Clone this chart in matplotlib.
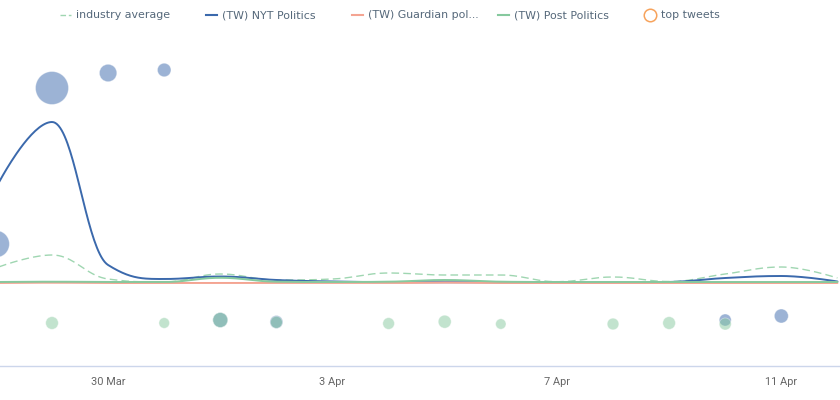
import numpy as np
import pandas as pd
import matplotlib
matplotlib.use("Agg")
import matplotlib.pyplot as plt
import matplotlib.dates as mdates
from matplotlib.lines import Line2D

# ---------------- data ----------------
dates = pd.date_range("2020-03-28", "2020-04-12", freq="D")
industry_avg = [15, 28, 4, 1, 9, 3, 4, 10, 8, 8, 1.3, 6, 1.5, 9, 16, 5]
nyt_politics = [95, 161, 18, 4, 6.5, 3, 1.5, 0.8, 0.8, 0.8, 0.5, 0.5, 1, 5, 7, 1.5]
guardian_politics = [0, 0.3, 0, 0, 0, 0, 0, 0, 0.4, 0, 0, 0, 0, 0, 0, 0]
post_politics = [1, 1.3, 1, 1, 5.2, 1.3, 1, 1.3, 3, 1.3, 1, 1, 1, 1, 1, 1]

nyt_tweet_dates = ["2020-03-28", "2020-03-29", "2020-03-30", "2020-03-31",
                   "2020-04-01", "2020-04-02", "2020-04-10", "2020-04-11"]
nyt_tweet_values = [39, 195, 210, 213, -37, -39, -37, -33]
nyt_tweet_size = [182, 272, 76, 46, 56, 42, 36, 49]

post_tweet_dates = ["2020-03-29", "2020-03-31", "2020-04-01", "2020-04-02", "2020-04-04",
                    "2020-04-05", "2020-04-06", "2020-04-08", "2020-04-09", "2020-04-10"]
post_tweet_values = [-40, -40, -37, -39.3, -40.5, -38.7, -41, -41, -40, -41]
post_tweet_size = [40, 28, 56, 36, 34, 42, 27, 34, 40, 36]

tick_dates = ["2020-03-30", "2020-04-03", "2020-04-07", "2020-04-11"]
tick_labels = ["30 Mar", "3 Apr", "7 Apr", "11 Apr"]

legend_labels = ["industry average", "(TW) NYT Politics", "(TW) Guardian pol...",
                 "(TW) Post Politics", "top tweets"]

# ---------------- styles ----------------
C_AVG = "#9fd6b1"
C_NYT = "#3b69ac"
C_GUA = "#f4a492"
C_POST = "#86c99e"
C_TOP = "#f7a35c"
C_TEXT = "#55687a"


def hc_spline(x, y, smoothing=1.5, n=40):
    """Highcharts-style spline through points (bezier with clamped controls)."""
    x = np.asarray(x, float)
    y = np.asarray(y, float)
    m = len(x)
    lcx, lcy = x.copy(), y.copy()
    rcx, rcy = x.copy(), y.copy()
    d = smoothing + 1
    for i in range(1, m - 1):
        lx, ly, px, py, nx, ny = x[i - 1], y[i - 1], x[i], y[i], x[i + 1], y[i + 1]
        lX = (smoothing * px + lx) / d
        lY = (smoothing * py + ly) / d
        rX = (smoothing * px + nx) / d
        rY = (smoothing * py + ny) / d
        corr = 0.0
        if rX != lX:
            corr = ((rY - lY) * (rX - px)) / (rX - lX) + py - rY
        lY += corr
        rY += corr
        if lY > ly and lY > py:
            lY = max(ly, py)
            rY = 2 * py - lY
        elif lY < ly and lY < py:
            lY = min(ly, py)
            rY = 2 * py - lY
        if rY > ny and rY > py:
            rY = max(ny, py)
            lY = 2 * py - rY
        elif rY < ny and rY < py:
            rY = min(ny, py)
            lY = 2 * py - rY
        lcx[i], lcy[i], rcx[i], rcy[i] = lX, lY, rX, rY
    xs, ys = [], []
    t = np.linspace(0, 1, n)
    for i in range(1, m):
        p0 = (x[i - 1], y[i - 1])
        p1 = (rcx[i - 1], rcy[i - 1])
        p2 = (lcx[i], lcy[i])
        p3 = (x[i], y[i])
        bx = (1 - t) ** 3 * p0[0] + 3 * (1 - t) ** 2 * t * p1[0] + 3 * (1 - t) * t ** 2 * p2[0] + t ** 3 * p3[0]
        by = (1 - t) ** 3 * p0[1] + 3 * (1 - t) ** 2 * t * p1[1] + 3 * (1 - t) * t ** 2 * p2[1] + t ** 3 * p3[1]
        xs.append(bx if i == 1 else bx[1:])
        ys.append(by if i == 1 else by[1:])
    return np.concatenate(xs), np.concatenate(ys)


fig = plt.figure(figsize=(8.4, 4.0), dpi=100)
ax = fig.add_axes([0, 34 / 400, 1, 326 / 400])

xn = mdates.date2num(dates)
for vals, col, ls, lw, z in [
    (industry_avg, C_AVG, (0, (5.5, 3)), 1.0, 2),
    (nyt_politics, C_NYT, "-", 1.4, 3),
    (guardian_politics, C_GUA, "-", 1.4, 4),
    (post_politics, C_POST, "-", 1.4, 5),
]:
    sx, sy = hc_spline(xn, vals)
    ax.plot(sx, sy, color=col, linestyle=ls, lw=lw, zorder=z, solid_capstyle="round")


def bubble_s(size):
    r = np.sqrt(np.asarray(size, float))  # radius in px
    return (2 * r * 0.72) ** 2


def rgba(c, a):
    cc = matplotlib.colors.to_rgba(c)
    return (cc[0], cc[1], cc[2], a)


ax.scatter(mdates.date2num(pd.to_datetime(nyt_tweet_dates)), nyt_tweet_values,
           s=bubble_s(nyt_tweet_size), facecolor=rgba(C_NYT, 0.5),
           edgecolor=(1, 1, 1, 0.4), linewidth=0.6, zorder=6)
ax.scatter(mdates.date2num(pd.to_datetime(post_tweet_dates)), post_tweet_values,
           s=bubble_s(post_tweet_size), facecolor=rgba(C_POST, 0.5),
           edgecolor=(1, 1, 1, 0.4), linewidth=0.6, zorder=7)

x0 = mdates.date2num(pd.Timestamp("2020-03-29"))
ax.set_xlim(x0 - 0.927, x0 + 14.046)
ax.set_ylim(-83, 243)

ax.set_xticks(mdates.date2num(pd.to_datetime(tick_dates)))
ax.set_xticklabels(tick_labels, fontfamily="Roboto", fontsize=7.9, color="#666666")
ax.tick_params(axis="x", length=0, pad=8)
ax.set_yticks([])
for side in ["top", "left", "right"]:
    ax.spines[side].set_visible(False)
ax.spines["bottom"].set_color("#ccd6eb")
ax.spines["bottom"].set_linewidth(1.0)

# ---------------- legend (manual) ----------------
W, H = 840.0, 400.0
ly = 1 - 15 / H


def fx(px):
    return px / W


legend_specs = [
    (60, 71, 76, C_AVG, "dash"),
    (206, 217, 222, C_NYT, "line"),
    (352, 363, 368, C_GUA, "line"),
    (498, 509, 514, C_POST, "line"),
    (650, 650, 661, C_TOP, "circle"),
]
for (a, b, tx, col, kind), lab in zip(legend_specs, legend_labels):
    if kind == "dash":
        fig.add_artist(Line2D([fx(a), fx(b)], [ly, ly], color=col, lw=1.0,
                              linestyle=(0, (4, 2)), transform=fig.transFigure))
    elif kind == "line":
        fig.add_artist(Line2D([fx(a), fx(b)], [ly, ly], color=col, lw=1.5,
                              transform=fig.transFigure))
    else:
        fig.add_artist(Line2D([fx(a)], [ly], marker="o", markersize=9,
                              markerfacecolor="none", markeredgecolor=col,
                              markeredgewidth=1.1, linestyle="none",
                              transform=fig.transFigure))
    fig.text(fx(tx), ly, lab, ha="left", va="center", fontsize=7.9,
             fontfamily="DejaVu Sans", color=C_TEXT)

fig.savefig("out.png", dpi=100)
